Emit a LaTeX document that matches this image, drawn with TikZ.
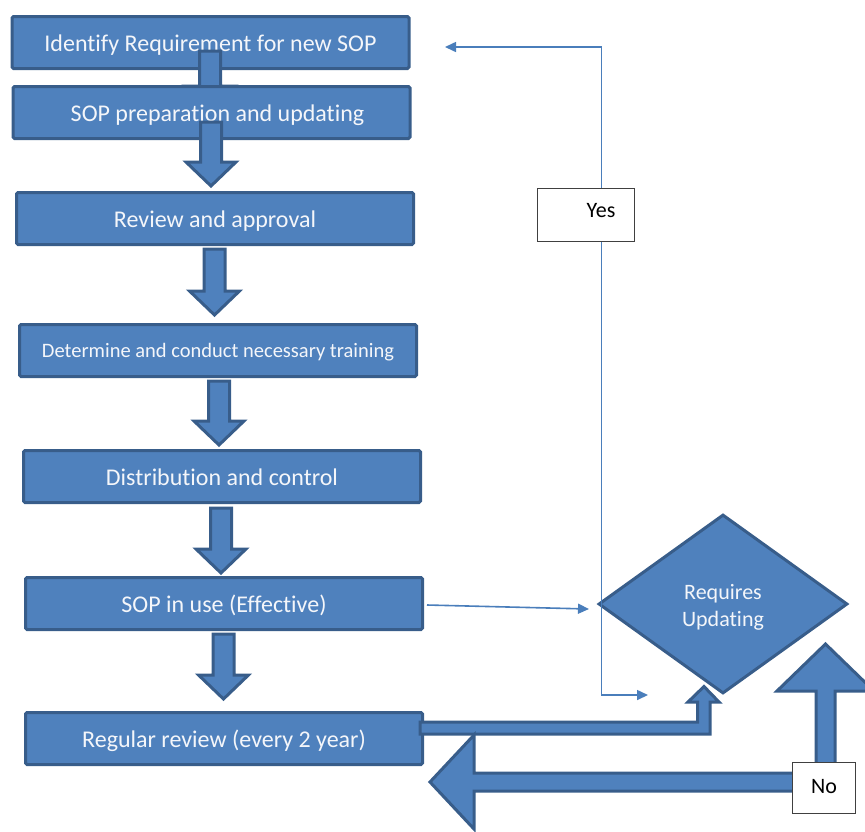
\documentclass[tikz,border=0pt]{standalone}
\usepackage{fontspec}
\setmainfont{Carlito}[Ligatures={NoCommon}]
\usetikzlibrary{arrows.meta,shapes.geometric}
\definecolor{fillblue}{HTML}{4F81BD}
\definecolor{edgeblue}{HTML}{385D8A}
\definecolor{lineblue}{HTML}{4A7EBB}
\definecolor{txtwhite}{HTML}{F4F6FA}
\newcommand{\blkdn}[3]{\draw[blk] ({#1-10.5},#2) -- ({#1+10.5},#2) -- ({#1+10.5},{#3-26}) -- ({#1+25},{#3-26}) -- (#1,{#3-2}) -- ({#1-25},{#3-26}) -- ({#1-10.5},{#3-26}) -- cycle;}
\begin{document}
\begin{tikzpicture}[x=1pt,y=-1pt,
  stepbox/.style={draw=edgeblue, line width=3pt, fill=fillblue, rounded corners=1.5pt,
    minimum width=397pt, minimum height=52pt, inner sep=0pt, text=txtwhite,
    text height=20pt, text depth=3pt,
    font=\fontsize{24}{28}\selectfont},
  blk/.style={draw=edgeblue, line width=3pt, fill=fillblue, line join=miter},
  decision/.style={diamond, draw=edgeblue, line width=3pt, fill=fillblue,
    minimum width=249pt, minimum height=179pt, inner sep=0pt},
  dectext/.style={text=txtwhite, align=center, inner sep=0pt,
    font=\fontsize{22}{27}\selectfont},
  lblbox/.style={draw=black!75, line width=1.2pt, fill=white, inner sep=0pt},
  lbltxt/.style={text=black, font=\fontsize{22}{26}\selectfont, inner sep=0pt},
  thinarrow/.style={draw=lineblue, line width=1.6pt, -{Triangle[length=11pt,width=10pt]}},
  thinboth/.style={draw=lineblue, line width=1.6pt, {Triangle[length=11pt,width=10pt]}-{Triangle[length=11pt,width=10pt]}}
]
\useasboundingbox (0,0) rectangle (865,831);
\clip (0,0) rectangle (865,831);

\node[stepbox] (b1) at (210.5,42.5) {Identify Requirement for new SOP};
\blkdn{210}{51}{112}
\node[stepbox] (b2) at (211.5,112.5) {\hspace*{12pt}SOP preparation and updating};
\blkdn{211}{122}{188}
\node[stepbox] (b3) at (215,218.5) {Review and approval};
\blkdn{214.5}{249}{317}
\node[stepbox, font=\fontsize{20.5}{24}\selectfont, text height=17pt, text depth=2.5pt] (b4) at (218,350.5) {Determine and conduct necessary training};
\blkdn{219}{381}{447}
\node[stepbox] (b5) at (222,476.5) {Distribution and control};
\blkdn{221}{508}{575}
\node[stepbox] (b6) at (224,603.5) {SOP in use (Effective)};
\blkdn{223.5}{634}{701}
\node[stepbox] (b7) at (224,738.5) {Regular review (every 2 year)};

\node[decision] (dec) at (723,604) {};
\node[dectext] (dectxt) at (723,607) {Requires\\Updating};

% regular review -> decision (bent block arrow)
\draw[blk] (420,722) -- (697.5,722) -- (697.5,702) -- (688,702) -- (704,686.5) -- (719,702) -- (710,702) -- (710,734) -- (420,734) -- cycle;

% No: up arrow and left arrow
\draw[blk] (816,790) -- (816,691) -- (777,691) -- (825.5,644) -- (874,691) -- (835,691) -- (835,790) -- cycle;
\draw[blk] (840,773) -- (474,773) -- (474,735) -- (430,782) -- (474,829) -- (474,791) -- (840,791) -- cycle;
\node[lblbox, minimum width=63pt, minimum height=51pt] (nobox) at (824,788) {};
\node[lbltxt] (notxt) at (824,787) {No};

% SOP in use -> decision
\coordinate (dtarget) at (589,609);
\draw[thinarrow] ([xshift=3pt,yshift=-1.5pt]b6.east) -- (dtarget);

% Yes loop
\coordinate (ytop) at (445,47);
\coordinate (ycorner) at (601.5,47);
\coordinate (ybot) at (648,695);
\draw[thinboth] (ytop) -- (ycorner) |- (ybot);
\node[lblbox, minimum width=97pt, minimum height=53pt] (yesbox) at (586,215) {};
\node[lbltxt] (yestxt) at (601,211) {Yes};
\end{tikzpicture}
\end{document}
